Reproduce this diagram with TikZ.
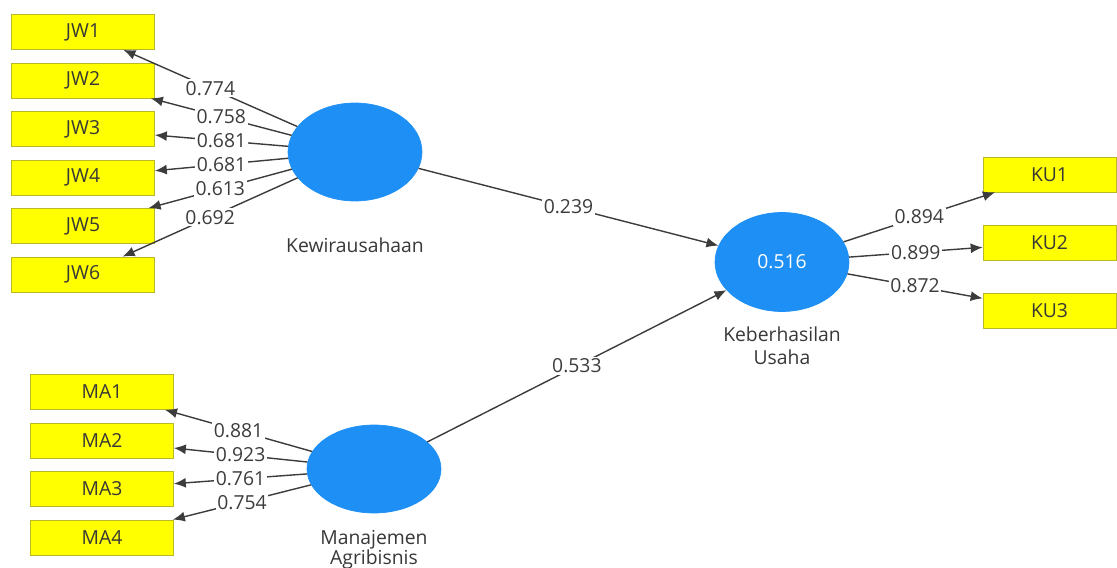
\documentclass[tikz,border=0pt]{standalone}
\usepackage{fontspec}
\setmainfont{Open Sans}
\usetikzlibrary{shapes.geometric,positioning,arrows.meta}
\definecolor{lvblue}{RGB}{30,144,245}
\definecolor{mvyellow}{RGB}{255,255,0}
\definecolor{mvborder}{RGB}{185,185,40}
\definecolor{pathgray}{RGB}{60,60,60}
\definecolor{txtgray}{RGB}{55,55,55}

\begin{document}
\begin{tikzpicture}[x=0.02cm, y=-0.02cm, >={Latex[length=2.4mm, width=2mm]},
    font=\fontsize{11}{13}\selectfont, text=txtgray,
    ind/.style={draw=mvborder, fill=mvyellow, minimum width=2.86cm, minimum height=0.7cm, inner sep=0pt},
    lv/.style={ellipse, fill=lvblue, draw=lvblue, minimum width=2.68cm, minimum height=1.96cm},
    coef/.style={fill=white, inner sep=1pt},
    node distance=0.97cm]
    \useasboundingbox (0,0) rectangle (1117,568);

    % indicators
    \node[ind] at (83,32) (jw1) {JW1};
    \node[ind, below of=jw1] (jw2) {JW2};
    \node[ind, below of=jw2] (jw3) {JW3};
    \node[ind, below of=jw3] (jw4) {JW4};
    \node[ind, below of=jw4] (jw5) {JW5};
    \node[ind, below of=jw5] (jw6) {JW6};
    \node[ind] at (102,392) (ma1) {MA1};
    \node[ind, below of=ma1] (ma2) {MA2};
    \node[ind, below of=ma2] (ma3) {MA3};
    \node[ind, below of=ma3] (ma4) {MA4};
    \node[ind, minimum width=2.66cm] at (1049.5,174.5) (ku1) {KU1};
    \node[ind, minimum width=2.66cm, below of=ku1, node distance=1.36cm] (ku2) {KU2};
    \node[ind, minimum width=2.66cm, below of=ku2, node distance=1.36cm] (ku3) {KU3};

    % constructs
    \node[lv] at (355,152) (kew) {};
    \node[lv, minimum height=1.76cm] at (374,469) (ma) {};
    \node[lv, minimum height=1.98cm, text=white] at (782,262) (keb) {0.516};
    \node[below=0.6cm of kew] (kewlbl) {Kewirausahaan};
    \node[below=0.18cm of keb, align=center] (keblbl) {Keberhasilan\\Usaha};
    \node[below=0.22cm of ma, align=center, font=\fontsize{11}{11.5}\selectfont] (malbl) {Manajemen\\Agribisnis};

    \draw[->, thick, pathgray]
    (kew) edge node[coef] {0.774} (jw1)
    (kew) edge node[coef] {0.758} (jw2)
    (kew) edge node[coef] {0.681} (jw3)
    (kew) edge node[coef] {0.681} (jw4)
    (kew) edge node[coef] {0.613} (jw5)
    (kew) edge node[coef] {0.692} (jw6)
    (ma) edge node[coef] {0.881} (ma1)
    (ma) edge node[coef] {0.923} (ma2)
    (ma) edge node[coef] {0.761} (ma3)
    (ma) edge node[coef] {0.754} (ma4)
    (keb) edge node[coef] {0.894} (ku1)
    (keb) edge node[coef] {0.899} (ku2)
    (keb) edge node[coef] {0.872} (ku3)
    (kew) edge node[coef] {0.239} (keb)
    (ma) edge node[coef] {0.533} (keb)
;

\end{tikzpicture}
\end{document}
